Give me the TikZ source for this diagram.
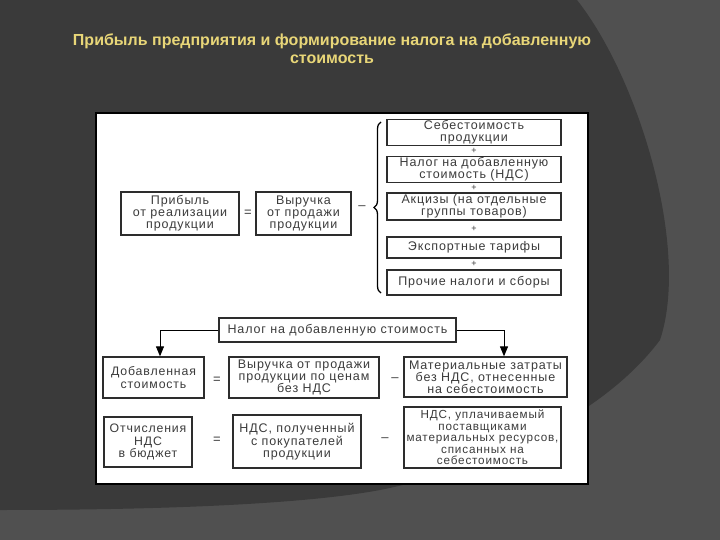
\documentclass[tikz,border=0pt]{standalone}
\usepackage{fontspec}
\setmainfont{Liberation Sans}
\newfontfamily\boxf{Liberation Sans}[LetterSpace=7]
\usetikzlibrary{arrows.meta,decorations.pathreplacing,calc}
\definecolor{bgdark}{RGB}{58,58,58}
\definecolor{bglight}{RGB}{80,80,80}
\definecolor{titlec}{RGB}{232,214,120}
\definecolor{txt}{RGB}{60,60,60}
\definecolor{brd}{RGB}{45,45,45}
\begin{document}
\begin{tikzpicture}[x=1pt,y=-1pt,
  box/.style={draw=brd, line width=1.3pt, fill=white, inner sep=1pt, align=center,
    font=\boxf\fontsize{12.5}{11.8}\selectfont, text=txt},
  bigbox/.style={box, font=\boxf\fontsize{12.3}{12.8}\selectfont},
  smallbox/.style={box, font=\boxf\fontsize{11.7}{11.6}\selectfont},
  op/.style={font=\fontsize{13}{13}\selectfont, text=txt, inner sep=0pt},
  pl/.style={op, font=\fontsize{9}{9}\selectfont},
  arr/.style={draw=black, line width=1pt, -{Triangle[length=10pt,width=8pt]}}]
\useasboundingbox (0,0) rectangle (720,540);
% background
\fill[bglight] (0,0) rectangle (720,540);
\fill[bgdark] (0,0) -- (577,0) .. controls (640,80) and (690,250) .. (660,340)
  .. controls (600,420) and (480,470) .. (380,490)
  .. controls (300,505) and (150,510) .. (0,510) -- cycle;
% panel
\draw[black, line width=1.2pt, fill=white] (96,113) rectangle (588,484);
% title
\node[text=titlec, font=\bfseries\fontsize{16}{18}\selectfont, align=center] (title) at (332,49)
  {Прибыль предприятия и формирование налога на добавленную\\стоимость};
% top part
\node[box, minimum width=118pt, minimum height=43pt] (prib) at (180,213.5) {Прибыль\\от реализации\\продукции};
\node[op] (eq1) at (248,213) {=};
\node[box, minimum width=95pt, minimum height=43pt] (vyr) at (303.5,213.5) {Выручка\\от продажи\\продукции};
\node[op] (mi1) at (362,208) {--};
\draw[decorate, decoration={brace, amplitude=7pt}, line width=1.3pt, black] (381,293) -- (381,122);
\node[box, minimum width=174pt, minimum height=25pt] (b1) at (474,132.5) {Себестоимость\\продукции};
\node[box, minimum width=174pt, minimum height=25pt] (b2) at (474,169.5) {Налог на добавленную\\стоимость (НДС)};
\node[box, minimum width=174pt, minimum height=27pt] (b3) at (474,206.5) {Акцизы (на отдельные\\группы товаров)};
\node[box, minimum width=174pt, minimum height=21pt] (b4) at (474,247.5) {Экспортные тарифы};
\node[box, minimum width=174pt, minimum height=25pt] (b5) at (474,282.5) {Прочие налоги и сборы};
\node[pl] (p1) at (474,151) {+};
\node[pl] (p2) at (474,187.5) {+};
\node[pl] (p3) at (474,228.5) {+};
\node[pl] (p4) at (474,264) {+};
% bottom part
\node[box, minimum width=237pt, minimum height=24pt] (nalog) at (337.5,330) {Налог на добавленную стоимость};
\node[bigbox, minimum width=101pt, minimum height=41pt] (dob) at (153.5,377.5) {Добавленная\\стоимость};
\node[op] (eq2) at (217,380) {=};
\node[box, minimum width=150pt, minimum height=41pt] (vyr2) at (304,377.5) {Выручка от продажи\\продукции по ценам\\без НДС};
\node[op] (mi2) at (395,380) {--};
\node[box, minimum width=163pt, minimum height=40pt] (mat) at (485.5,377) {Материальные затраты\\без НДС, отнесенные\\на себестоимость};
\node[bigbox, minimum width=88pt, minimum height=50pt] (otch) at (148,442) {Отчисления\\НДС\\в бюджет};
\node[op] (eq3) at (217,440) {=};
\node[box, minimum width=128pt, minimum height=53pt] (ndsp) at (297,441.5) {НДС, полученный\\с покупателей\\продукции};
\node[op] (mi3) at (385,440) {--};
\node[smallbox, minimum width=157pt, minimum height=61pt] (ndsu) at (482.5,437.5) {НДС, уплачиваемый\\поставщиками\\материальных ресурсов,\\списанных на\\себестоимость};
% arrows
\coordinate (aL) at (160,0);
\coordinate (aR) at (504,0);
\draw[arr] (nalog.west) -| (dob.north -| aL);
\draw[arr] (nalog.east) -| (mat.north -| aR);
\end{tikzpicture}
\end{document}
